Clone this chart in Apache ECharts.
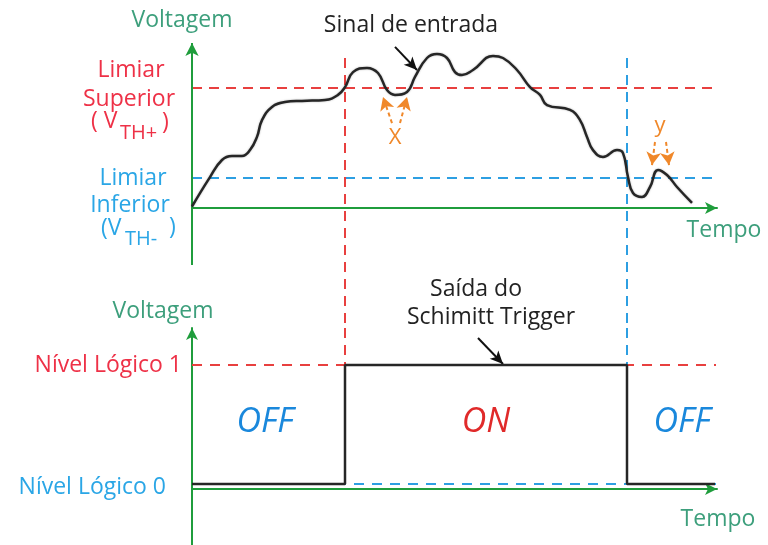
<!DOCTYPE html>
<html>
<head>
<meta charset="utf-8">
<script src="https://cdn.jsdelivr.net/npm/echarts@6/dist/echarts.min.js"></script>
<style>html,body{margin:0;padding:0;background:#fff;}#c{width:768px;height:545px;}</style>
</head>
<body>
<div id="c"></div>
<script>
// ---- data ----
const signalT = [0,3.6,6,8,10,11.6,13,14,16,18.6,22,26.6,29.2,30.6,32.2,35,37.2,39,40.6,43,44.6,47,49,51,52.6,54,56.2,60.2,62.2,65,67.6,69.6,71,75.6,77.6,79,80.2,82.2,85,86.2,87.2,88.2,90,91.6,93.2,95,97,100];
const signalV = [0.05,1.03,1.6,1.73,1.73,1.93,2.37,2.93,3.37,3.53,3.57,3.6,3.77,4.03,4.53,4.67,4.5,3.93,3.77,3.87,4.37,5.0,5.13,5.0,4.53,4.43,4.6,5.07,5.0,4.6,4.03,3.77,3.43,3.27,2.93,2.37,1.93,1.7,1.93,1.83,1.03,0.5,0.37,0.7,1.27,1.1,0.7,0.17];
const thresholds = [4.0, 1.0];            // V_TH+, V_TH-
const switchTimes = [30.6, 87];           // ON at upper crossing, OFF at lower crossing
const logicLevels = [0.1, 2.48];          // Nível Lógico 0, Nível Lógico 1
const levelLabels = ['Nível Lógico 0', 'Nível Lógico 1'];
const outputT = [0, 30.6, 30.6, 87, 87, 104.6];
const outputV = [0.1, 0.1, 2.48, 2.48, 0.1, 0.1];

const GREEN = '#1f9d3c', RED = '#e8403f', BLUE = '#2d9fe2', ORANGE = '#f0882a';
const TXT_GREEN = '#3d9f7c', TXT_RED = '#ee3147', TXT_BLUE = '#2aa6e6';
const FONT = '"Open Sans"';
const FS = 23;

const signalData = signalT.map((t, i) => [t, signalV[i]]);
const outputData = outputT.map((t, i) => [t, outputV[i]]);

function arrowLine(a, b, color, type, size) {
  return [{coord: a, symbol: 'none', lineStyle: {color: color, type: type, width: 2}},
          {coord: b, symbol: 'arrow', symbolSize: size}];
}

const chart = echarts.init(document.getElementById('c'));
const noAxis = {axisTick: {show: false}, axisLabel: {show: false}, splitLine: {show: false}};
const axisArrowLine = {show: true, onZero: true, symbol: ['none', 'arrow'], symbolSize: [9, 12],
  lineStyle: {color: GREEN, width: 2}};

function txt(text, x, y, opt) {
  opt = opt || {};
  return {type: 'text', silent: true, style: {
    text: text, x: x, y: y, fill: opt.fill || '#222',
    font: (opt.style || 'normal') + ' ' + (opt.size || FS) + 'px ' + FONT,
    textAlign: opt.align || 'center', textVerticalAlign: 'middle'}};
}

chart.setOption({
  animation: false,
  backgroundColor: '#fff',
  grid: [
    {left: 192, right: 51, top: 43, height: 285},
    {left: 192, right: 51, top: 328, height: 217}
  ],
  xAxis: [
    Object.assign({gridIndex: 0, type: 'value', min: 0, max: 105, axisLine: axisArrowLine}, noAxis),
    Object.assign({gridIndex: 1, type: 'value', min: 0, max: 105, axisLine: axisArrowLine}, noAxis)
  ],
  yAxis: [
    Object.assign({gridIndex: 0, type: 'value', min: -4, max: 5.5, axisLine: {show: false}}, noAxis),
    {gridIndex: 1, type: 'value', min: -1.12, max: 3.22, axisLine: axisArrowLine,
     axisTick: {show: false}, splitLine: {show: false},
     axisLabel: {show: true, customValues: logicLevels, margin: 10,
       formatter: function (v) {
         const i = logicLevels.indexOf(v);
         return i === 0 ? '{lo|' + levelLabels[0] + '}' : '{hi|' + levelLabels[1] + '}';
       },
       rich: {
         lo: {color: TXT_BLUE, fontSize: FS, fontFamily: 'Open Sans', padding: [6, 16, 0, 0]},
         hi: {color: TXT_RED, fontSize: FS, fontFamily: 'Open Sans'}
       }}}
  ],
  series: [
    {
      type: 'line', xAxisIndex: 0, yAxisIndex: 0, data: signalData, smooth: 0.45,
      showSymbol: false, silent: true, z: 5,
      lineStyle: {color: '#262626', width: 2.5, shadowColor: 'rgba(0,0,0,0.3)', shadowBlur: 2},
      markLine: {
        silent: true, animation: false, label: {show: false},
        data: [
          [{coord: [0, thresholds[0]], symbol: 'none', lineStyle: {color: RED, type: [10, 7], width: 2}},
           {coord: [104.8, thresholds[0]], symbol: 'none'}],
          [{coord: [0, thresholds[1]], symbol: 'none', lineStyle: {color: BLUE, type: [10, 7], width: 2}},
           {coord: [104.8, thresholds[1]], symbol: 'none'}],
          [{coord: [switchTimes[0], 5.0], symbol: 'none', lineStyle: {color: RED, type: [10, 7], width: 2}},
           {coord: [switchTimes[0], -4], symbol: 'none'}],
          [{coord: [switchTimes[1], 5.0], symbol: 'none', lineStyle: {color: BLUE, type: [10, 7], width: 2}},
           {coord: [switchTimes[1], -4], symbol: 'none'}],
          [{coord: [0, -1.9], symbol: 'none', lineStyle: {color: GREEN, type: 'solid', width: 2}},
           {coord: [0, 5.5], symbol: 'arrow', symbolSize: [10, 13]}],
          arrowLine([40.6, 5.37], [45.0, 4.6], '#111', 'solid', [9, 13]),
          arrowLine([40.0, 2.83], [38.2, 3.7], ORANGE, [4, 3], [11, 13]),
          arrowLine([41.6, 2.83], [43.0, 3.7], ORANGE, [4, 3], [11, 13]),
          arrowLine([92.6, 2.2], [92.0, 1.43], ORANGE, [4, 3], [11, 13]),
          arrowLine([94.8, 2.2], [95.4, 1.43], ORANGE, [4, 3], [11, 13])
        ]
      }
    },
    {
      type: 'line', xAxisIndex: 1, yAxisIndex: 1, data: outputData, smooth: false,
      showSymbol: false, silent: true, z: 5,
      lineStyle: {color: '#262626', width: 2.5},
      markLine: {
        silent: true, animation: false, label: {show: false},
        data: [
          [{coord: [0, logicLevels[1]], symbol: 'none', lineStyle: {color: RED, type: [10, 8], width: 2}},
           {coord: [104.8, logicLevels[1]], symbol: 'none'}],
          [{coord: [0, logicLevels[0]], symbol: 'none', lineStyle: {color: BLUE, type: [10, 8], width: 2}},
           {coord: [104.8, logicLevels[0]], symbol: 'none'}],
          [{coord: [switchTimes[0], 3.22], symbol: 'none', lineStyle: {color: RED, type: [10, 7], width: 2}},
           {coord: [switchTimes[0], logicLevels[1]], symbol: 'none'}],
          [{coord: [switchTimes[1], 3.22], symbol: 'none', lineStyle: {color: BLUE, type: [10, 7], width: 2}},
           {coord: [switchTimes[1], logicLevels[1]], symbol: 'none'}],
          arrowLine([57.2, 3.02], [62.2, 2.5], '#111', 'solid', [9, 13])
        ]
      }
    }
  ],
  graphic: [
    txt('Voltagem', 182, 20, {fill: TXT_GREEN}),
    txt('Sinal de entrada', 411, 25),
    txt('Limiar', 131, 70, {fill: TXT_RED}),
    txt('Superior', 129, 99, {fill: TXT_RED}),
    txt('( V', 91, 121, {fill: TXT_RED, align: 'left'}),
    txt('TH+', 120, 133, {fill: TXT_RED, size: 20, align: 'left'}),
    txt(')', 162, 122, {fill: TXT_RED, align: 'left'}),
    txt('Limiar', 133, 178, {fill: TXT_BLUE}),
    txt('Inferior', 130, 205, {fill: TXT_BLUE}),
    txt('(V', 101, 228, {fill: TXT_BLUE, align: 'left'}),
    txt('TH-', 125, 239, {fill: TXT_BLUE, size: 20, align: 'left'}),
    txt(')', 169, 227, {fill: TXT_BLUE, align: 'left'}),
    txt('X', 395, 138, {fill: ORANGE, size: 22}),
    txt('y', 660, 126, {fill: ORANGE, size: 22}),
    txt('Tempo', 724, 230, {fill: TXT_GREEN}),
    txt('Voltagem', 163, 311, {fill: TXT_GREEN}),
    txt('Saída do', 476, 289),
    txt('Schimitt Trigger', 491, 317),
    txt('OFF', 265, 422, {fill: '#1a88dc', style: 'italic', size: 34}),
    txt('ON', 486, 422, {fill: '#e02a2a', style: 'italic', size: 34}),
    txt('OFF', 682, 422, {fill: '#1a88dc', style: 'italic', size: 34}),
    txt('Tempo', 718, 519, {fill: TXT_GREEN})
  ]
});
</script>
</body>
</html>
